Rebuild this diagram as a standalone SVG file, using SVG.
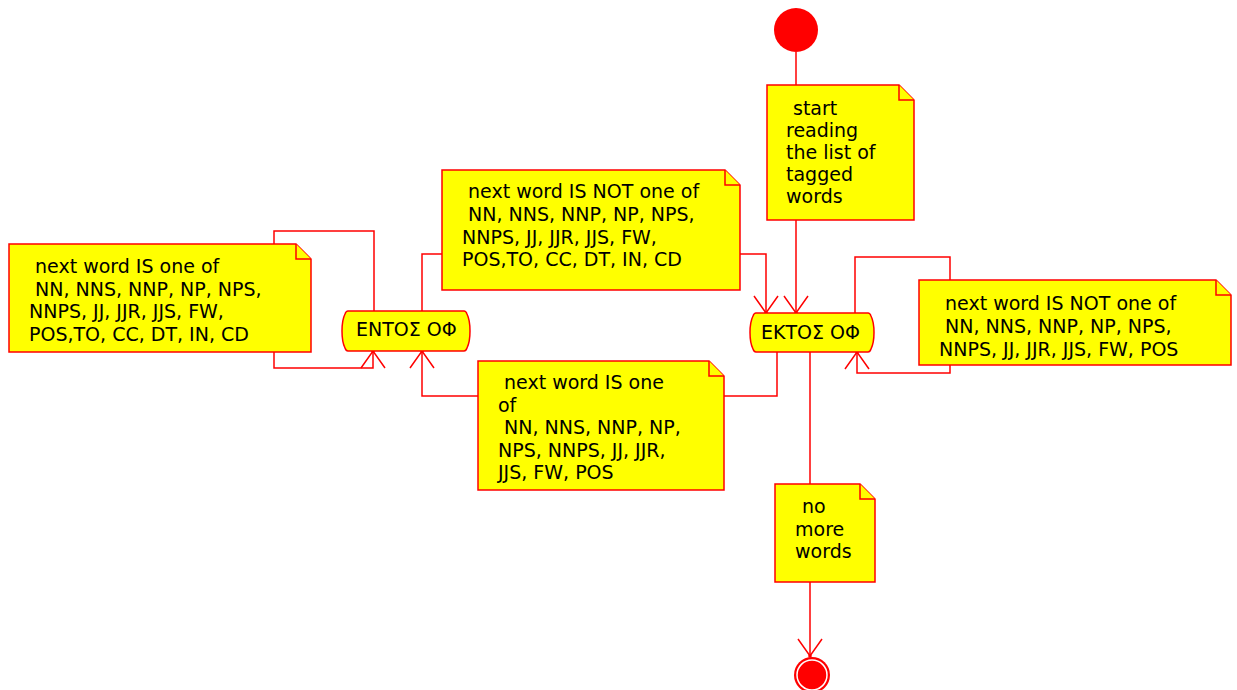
<svg xmlns="http://www.w3.org/2000/svg" width="1237" height="690" viewBox="0 0 1237 690">
<style>
.note{fill:#FFFF00;stroke:#FF0000;stroke-width:1.5;}
.fold{fill:#FFFF00;stroke:#FF0000;stroke-width:1.5;}
.state{fill:#FFFF00;stroke:#FF0000;stroke-width:1.5;}
.t{font-family:"DejaVu Sans","Liberation Sans",sans-serif;font-size:19px;fill:#000;}
.c{fill:none;stroke:#FF0000;stroke-width:1.5;}
</style>
<defs>
<marker id="arr" markerUnits="userSpaceOnUse" markerWidth="40" markerHeight="40" refX="0" refY="0" orient="auto" overflow="visible">
<path d="M-17,-12 L0,0 L-17,12" fill="none" stroke="#FF0000" stroke-width="1.5"/>
<circle cx="0" cy="0" r="1.8" fill="#FF0000"/>
</marker>
</defs>
<rect width="1237" height="690" fill="#FFFFFF"/>

<g id="connectors">
<path class="c" d="M796,52 V85"/>
<path class="c" d="M796,220 V313" marker-end="url(#arr)"/>
<path class="c" d="M422,311 V254 H442"/>
<path class="c" d="M740,254 H766 V313" marker-end="url(#arr)"/>
<path class="c" d="M777,352 V396 H724"/>
<path class="c" d="M478,396 H422 V351" marker-end="url(#arr)"/>
<path class="c" d="M374,311 V231 H274 V244"/>
<path class="c" d="M274,352 V368 H373 V351" marker-end="url(#arr)"/>
<path class="c" d="M855,313 V257 H950 V280"/>
<path class="c" d="M950,365 V373 H857 V352" marker-end="url(#arr)"/>
<path class="c" d="M810,352 V484"/>
<path class="c" d="M810,582 V656" marker-end="url(#arr)"/>
</g>

<g id="start">
<circle cx="796" cy="30" r="22" fill="#FF0000"/>
</g>

<g id="end">
<circle cx="812" cy="675" r="18" fill="#FF0000"/>
<circle cx="812" cy="675" r="15" fill="none" stroke="#FFFFFF" stroke-width="1.5"/>
</g>

<g id="note-start">
<path class="note" d="M767,85 H899 L914,100 V220 H767 Z"/>
<path class="fold" d="M899,85 V100 H914"/>
<text class="t" x="793" y="115">start</text>
<text class="t" x="786" y="137">reading</text>
<text class="t" x="786" y="159">the list of</text>
<text class="t" x="786" y="181">tagged</text>
<text class="t" x="786" y="203">words</text>
</g>

<g id="entos">
<path class="state" d="M348,311 H464 Q466,311 467,314 C471,322 471,340 467,348 Q466,351 464,351 H348 Q346,351 345,348 C341,340 341,322 345,314 Q346,311 348,311 Z"/>
<text class="t" x="356" y="336">ΕΝΤΟΣ ΟΦ</text>
</g>

<g id="ektos">
<path class="state" d="M756,313 H868 Q870,313 871,316 C875,324 875,341 871,349 Q870,352 868,352 H756 Q754,352 753,349 C749,341 749,324 753,316 Q754,313 756,313 Z"/>
<text class="t" x="761" y="339">ΕΚΤΟΣ ΟΦ</text>
</g>

<g id="note-left">
<path class="note" d="M9,244 H296 L311,259 V352 H9 Z"/>
<path class="fold" d="M296,244 V259 H311"/>
<text class="t" x="35" y="273">next word IS one of</text>
<text class="t" x="35" y="296">NN, NNS, NNP, NP, NPS,</text>
<text class="t" x="29" y="318">NNPS, JJ, JJR, JJS, FW,</text>
<text class="t" x="29" y="341">POS,TO, CC, DT, IN, CD</text>
</g>

<g id="note-top">
<path class="note" d="M442,170 H725 L740,185 V290 H442 Z"/>
<path class="fold" d="M725,170 V185 H740"/>
<text class="t" x="468" y="198">next word IS NOT one of</text>
<text class="t" x="468" y="221">NN, NNS, NNP, NP, NPS,</text>
<text class="t" x="462" y="244">NNPS, JJ, JJR, JJS, FW,</text>
<text class="t" x="462" y="266">POS,TO, CC, DT, IN, CD</text>
</g>

<g id="note-bottom">
<path class="note" d="M478,361 H709 L724,376 V490 H478 Z"/>
<path class="fold" d="M709,361 V376 H724"/>
<text class="t" x="504" y="389">next word IS one</text>
<text class="t" x="498" y="412">of</text>
<text class="t" x="504" y="434">NN, NNS, NNP, NP,</text>
<text class="t" x="498" y="457">NPS, NNPS, JJ, JJR,</text>
<text class="t" x="498" y="479">JJS, FW, POS</text>
</g>

<g id="note-right">
<path class="note" d="M919,280 H1216 L1231,295 V365 H919 Z"/>
<path class="fold" d="M1216,280 V295 H1231"/>
<text class="t" x="945" y="310">next word IS NOT one of</text>
<text class="t" x="945" y="333">NN, NNS, NNP, NP, NPS,</text>
<text class="t" x="939" y="356">NNPS, JJ, JJR, JJS, FW, POS</text>
</g>

<g id="note-end">
<path class="note" d="M775,484 H860 L875,499 V582 H775 Z"/>
<path class="fold" d="M860,484 V499 H875"/>
<text class="t" x="802" y="513">no</text>
<text class="t" x="795" y="536">more</text>
<text class="t" x="795" y="558">words</text>
</g>
</svg>
